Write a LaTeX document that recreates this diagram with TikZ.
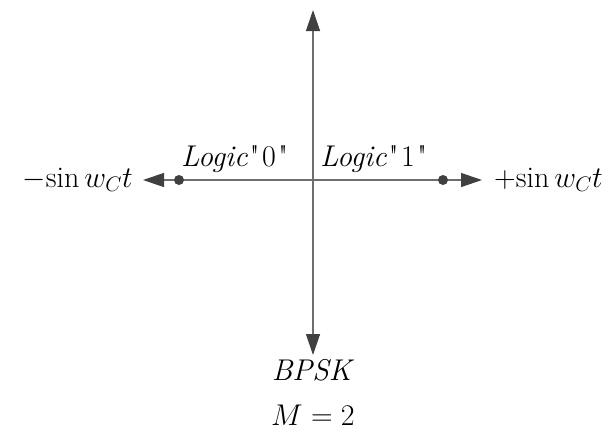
\RequirePackage{fix-cm}
\documentclass[tikz,border=0pt]{standalone}
\usepackage{fontspec}
\newfontfamily\qfont{Latin Modern Roman}
\usetikzlibrary{arrows.meta}
\definecolor{axisgray}{HTML}{6E6E6E}
\definecolor{tipgray}{HTML}{404040}
\tikzset{
  tip/.style={arrows={Triangle[length=21pt,width=14pt,color=tipgray]-Triangle[length=21pt,width=14pt,color=tipgray]}},
  axis/.style={draw=axisgray, line width=1.3pt, tip},
  pt/.style={circle, fill=tipgray, inner sep=0pt, minimum size=10pt},
  lbl/.style={inner sep=0pt, font=\fontsize{30}{36}\selectfont},
  mlbl/.style={inner sep=0pt, font=\fontsize{30}{36}\selectfont}
}
\newcommand{\qq}[1]{{\qfont\hspace{2pt}"\hspace{2.5pt}#1\hspace{2.5pt}"}}
\begin{document}
\begin{tikzpicture}[x=1pt,y=-1pt]
\useasboundingbox (0,0) rectangle (608,432);
\coordinate (top) at (313,10);
\coordinate (bot) at (313,355);
\coordinate (left) at (143,180);
\coordinate (right) at (482,180);
\draw[axis] (bot) -- (top);
\draw[axis] (left) -- (right);
\node[pt] (p0) at (179,180) {};
\node[pt] (p1) at (443,180) {};
\node[mlbl, anchor=base east] (lneg) at (133,187) {${-}\!\sin w_C t$};
\node[mlbl, anchor=base west] (lpos) at (494,187) {${+}\!\sin w_C t$};
\node[lbl, anchor=base west] (l0) at (181,166) {\textit{Logic}\qq{0}};
\node[lbl, anchor=base west] (l1) at (320,166) {\textit{Logic}\qq{1}};
\node[lbl, anchor=base] (bpsk) at (313,380) {\textit{BPSK}};
\node[lbl, anchor=base] (m) at (313,425) {$M=2$};
\end{tikzpicture}
\end{document}
